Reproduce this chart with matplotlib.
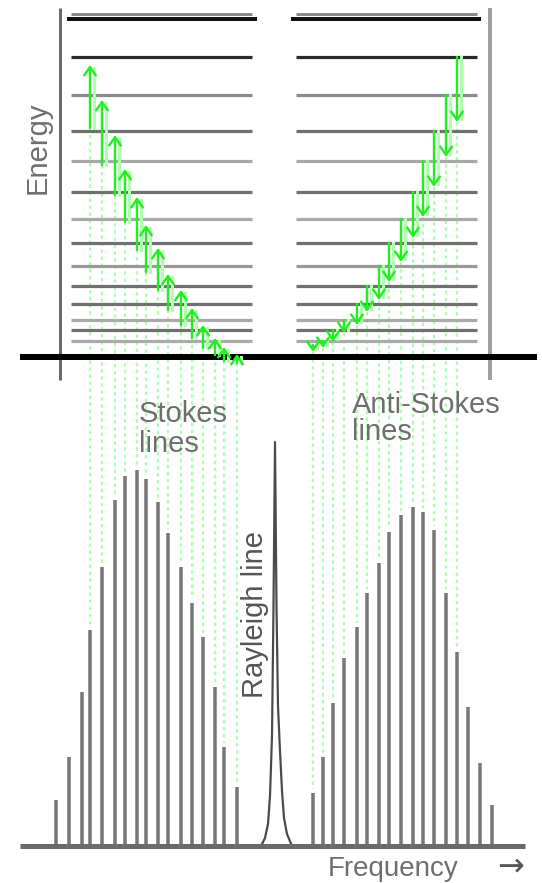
import matplotlib
matplotlib.use("Agg")
import matplotlib.pyplot as plt

# ---------------- data ----------------
# energy levels (height above the ground level, diagram units)
level_energy = [338, 300, 262, 226, 196, 165, 138, 114, 91, 71, 53, 37, 27, 16]
level_shade = ['#111111', '#2a2a2a', '#8a8a8a', '#707070', '#a8a8a8', '#707070', '#a8a8a8',
               '#707070', '#999999', '#707070', '#707070', '#aaaaaa', '#707070', '#aaaaaa']

# Stokes lines: frequency position and intensity
stokes_freq = [56, 69, 82, 90, 102, 115, 125, 137, 146, 158, 168, 181, 192, 203, 215, 224, 237]
stokes_int = [46, 89, 154, 216, 279, 346, 370, 376, 367, 344, 313, 279, 243, 209, 159, 99, 59]

# Anti-Stokes lines
anti_freq = [313, 323, 333, 344, 357, 367, 379, 389, 401, 413, 423, 434, 446, 457, 468, 480, 492]
anti_int = [53, 89, 143, 188, 219, 253, 283, 314, 331, 339, 334, 316, 253, 194, 139, 83, 41]

# Rayleigh line profile
ray_freq = [261, 265, 268, 270, 272, 273.5, 275, 276.5, 278, 280, 282, 284, 287, 292]
ray_int = [0, 8, 22, 50, 110, 240, 404, 240, 140, 95, 55, 28, 12, 0]

# transitions (energies of arrow tail and head), one per connected spectral line
stokes_tail_E = [229, 192, 162, 135, 107, 85, 67, 47, 32, 19, 9, 2, -4, -6]
stokes_head_E = [292, 257, 222, 188, 160, 132, 109, 83, 67, 49, 32, 19, 10, 3]
anti_tail_E = [12, 16, 27, 37, 53, 71, 91, 114, 138, 165, 196, 226, 262, 300]
anti_head_E = [5, 9, 15, 24, 32, 45, 57, 75, 95, 119, 140, 170, 200, 235]

# ---------------- layout ----------------
W, H = 542, 883
GROUND = 357
BASE = 846

fig = plt.figure(figsize=(W / 100, H / 100), dpi=100)
ax = fig.add_axes([0, 0, 1, 1])
ax.set_xlim(0, W)
ax.set_ylim(H, 0)
ax.axis('off')

px = 0.72  # points per pixel


def ey(e):
    return GROUND - e


def sy(i):
    return BASE - i


# energy axes
ax.plot([60, 60], [8, 380], color='#6a6a6a', lw=3 * px, solid_capstyle='butt')
ax.plot([490, 490], [8, 380], color='#a0a0a0', lw=4 * px, solid_capstyle='butt')

# levels
for k, (e, c) in enumerate(zip(level_energy, level_shade)):
    y = ey(e)
    if k == 0:
        ax.plot([71, 252], [y - 5, y - 5], color='#8a8a8a', lw=3 * px, solid_capstyle='butt')
        ax.plot([296, 477], [y - 5, y - 5], color='#8a8a8a', lw=3 * px, solid_capstyle='butt')
        ax.plot([67, 257], [y, y], color=c, lw=4 * px, solid_capstyle='butt')
        ax.plot([291, 481], [y, y], color=c, lw=4 * px, solid_capstyle='butt')
    else:
        ax.plot([71, 252], [y, y], color=c, lw=3.2 * px, solid_capstyle='butt')
        ax.plot([296, 477], [y, y], color=c, lw=3.2 * px, solid_capstyle='butt')

# ground level
ax.plot([20, 537], [GROUND, GROUND], color='#000000', lw=6 * px, solid_capstyle='butt', zorder=3)

# dotted connectors
green_pale = '#aaffaa'
for x, e, inten in zip(stokes_freq[3:], stokes_tail_E, stokes_int[3:]):
    ax.plot([x, x], [ey(e), sy(inten) - 4], color=green_pale, lw=2.2 * px,
            linestyle=(0, (1.6, 1.6)), zorder=1)
for x, e, inten in zip(anti_freq[:14], anti_head_E, anti_int[:14]):
    ax.plot([x, x], [ey(e), sy(inten) - 4], color=green_pale, lw=2.2 * px,
            linestyle=(0, (1.6, 1.6)), zorder=1)

# transition arrows
green = '#22ee22'
for x, t, h in zip(stokes_freq[3:], stokes_tail_E, stokes_head_E):
    ax.plot([x + 4, x + 4], [ey(t), ey(h) + 3], color='#b0ffb0', lw=3 * px, zorder=4)
    ax.annotate('', xy=(x, ey(h)), xytext=(x, ey(t)),
                arrowprops=dict(arrowstyle='->,head_length=0.5,head_width=0.35', color=green,
                                lw=2.4 * px, shrinkA=0, shrinkB=0, mutation_scale=12), zorder=5)
for x, t, h in zip(anti_freq[:14], anti_tail_E, anti_head_E):
    ax.plot([x + 4, x + 4], [ey(t), ey(h) - 3], color='#b0ffb0', lw=3 * px, zorder=4)
    ax.annotate('', xy=(x, ey(h)), xytext=(x, ey(t)),
                arrowprops=dict(arrowstyle='->,head_length=0.5,head_width=0.35', color=green,
                                lw=2.4 * px, shrinkA=0, shrinkB=0, mutation_scale=12), zorder=5)

# spectrum
ax.plot([20, 525], [BASE, BASE], color='#6a6a6a', lw=5 * px, solid_capstyle='butt', zorder=3)
ax.vlines(stokes_freq, [sy(i) for i in stokes_int], BASE, color='#777777', lw=3.5 * px, zorder=2)
ax.vlines(anti_freq, [sy(i) for i in anti_int], BASE, color='#777777', lw=3.5 * px, zorder=2)
ax.plot(ray_freq, [sy(i) for i in ray_int], color='#4a4a4a', lw=2.2 * px, zorder=2)

# text
fam = ['Liberation Sans', 'DejaVu Sans']
tc = '#6e6e6e'
fs = 21
ax.text(38, 148, 'Energy', rotation=90, ha='center', va='center', fontsize=fs, color=tc, family=fam)
ax.text(139, 422, 'Stokes', ha='left', va='baseline', fontsize=fs, color=tc, family=fam)
ax.text(139, 452, 'lines', ha='left', va='baseline', fontsize=fs, color=tc, family=fam)
ax.text(352, 413, 'Anti-Stokes', ha='left', va='baseline', fontsize=fs, color=tc, family=fam)
ax.text(352, 440, 'lines', ha='left', va='baseline', fontsize=fs, color=tc, family=fam)
ax.text(255, 615, 'Rayleigh line', rotation=90, ha='center', va='center', fontsize=fs,
        color='#555555', family=fam)
ax.text(328, 876, 'Frequency', ha='left', va='baseline', fontsize=20, color=tc, family=fam)
ax.text(511, 875, '→', ha='center', va='baseline', fontsize=23, color='#555555',
        family=['DejaVu Sans'])

fig.savefig('out.png', dpi=100)
